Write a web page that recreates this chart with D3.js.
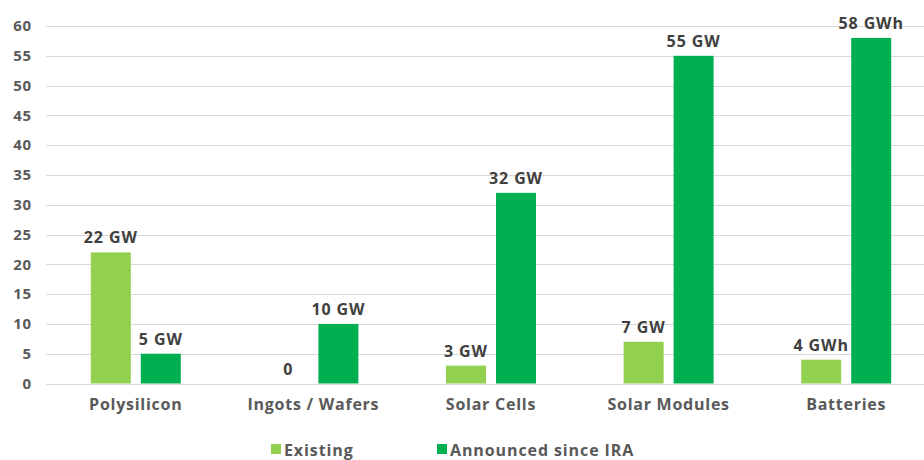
<!DOCTYPE html>
<html>
<head>
<meta charset="utf-8">
<script src="https://cdn.jsdelivr.net/npm/d3@7"></script>
<style>
  html, body { margin: 0; padding: 0; background: #fff; }
  svg { display: block; font-family: "Open Sans", "DejaVu Sans", sans-serif; font-weight: 700; }
</style>
</head>
<body>
<svg id="chart" width="924" height="460"></svg>
<script>
// Manufacturing capacity by supply-chain stage
const categories = ["Polysilicon", "Ingots / Wafers", "Solar Cells", "Solar Modules", "Batteries"];
const seriesNames = ["Existing", "Announced since IRA"];
const existing = [22, 0, 3, 7, 4];
const announced = [5, 10, 32, 55, 58];
const existingLabels = ["22 GW", "0", "3 GW", "7 GW", "4 GWh"];
const announcedLabels = ["5 GW", "10 GW", "32 GW", "55 GW", "58 GWh"];
const yTicks = [0, 5, 10, 15, 20, 25, 30, 35, 40, 45, 50, 55, 60];
const colors = ["#92d050", "#00b050"];

const svg = d3.select("#chart");
const W = 924;

const y = d3.scaleLinear().domain([0, 60]).range([383.5, 26]);
const x0 = d3.scaleBand().domain(categories).range([47, 935]).padding(0);
const x1 = d3.scaleBand().domain(seriesNames)
  .range([x0.bandwidth() / 2 - 45, x0.bandwidth() / 2 + 45])
  .paddingInner(0.2);

// Horizontal gridlines
svg.append("g")
  .selectAll("line")
  .data(yTicks)
  .join("line")
  .attr("x1", 46).attr("x2", W)
  .attr("y1", d => Math.round(y(d)) + 0.5)
  .attr("y2", d => Math.round(y(d)) + 0.5)
  .attr("stroke", "#d9d9d9")
  .attr("stroke-width", 1);

// Y-axis tick labels
const yAxis = d3.axisLeft(y).tickValues(yTicks).tickSize(0).tickPadding(0);
const gy = svg.append("g").attr("transform", "translate(32,0)").call(yAxis);
gy.select(".domain").remove();
gy.selectAll("text")
  .attr("font-family", "'Open Sans', sans-serif")
  .attr("font-weight", 700)
  .attr("font-size", 15)
  .attr("letter-spacing", 0.8)
  .attr("fill", "#595959");

// Bar groups
const rows = categories.map((c, i) => ({
  cat: c,
  vals: [
    { s: seriesNames[0], v: existing[i], label: existingLabels[i] },
    { s: seriesNames[1], v: announced[i], label: announcedLabels[i] }
  ]
}));

const groups = svg.append("g")
  .selectAll("g")
  .data(rows)
  .join("g")
  .attr("transform", d => `translate(${x0(d.cat)},0)`);

groups.selectAll("rect")
  .data(d => d.vals)
  .join("rect")
  .attr("x", d => x1(d.s))
  .attr("width", x1.bandwidth())
  .attr("y", d => y(d.v))
  .attr("height", d => y(0) - y(d.v))
  .attr("fill", (d, i) => colors[i]);

groups.selectAll("text")
  .data(d => d.vals)
  .join("text")
  .attr("x", d => x1(d.s) + x1.bandwidth() / 2)
  .attr("y", d => y(d.v) - 9)
  .attr("text-anchor", "middle")
  .attr("font-size", 16)
  .attr("letter-spacing", 0.9)
  .attr("fill", "#404040")
  .text(d => d.label);

// Category axis labels
const xAxis = d3.axisBottom(x0).tickSize(0).tickPadding(0);
const gx = svg.append("g").attr("transform", "translate(0,399)").call(xAxis);
gx.select(".domain").remove();
gx.selectAll("text")
  .attr("font-family", "'Open Sans', sans-serif")
  .attr("font-weight", 700)
  .attr("font-size", 16)
  .attr("letter-spacing", 0.75)
  .attr("fill", "#595959");

// Legend
const legendX = [271, 437];
const legend = svg.append("g")
  .selectAll("g")
  .data(seriesNames)
  .join("g")
  .attr("transform", (d, i) => `translate(${legendX[i]},0)`);
legend.append("rect")
  .attr("x", 0).attr("y", 444)
  .attr("width", 10).attr("height", 10)
  .attr("fill", (d, i) => colors[i]);
legend.append("text")
  .attr("x", 13).attr("y", 456)
  .attr("font-size", 16)
  .attr("letter-spacing", 0.9)
  .attr("fill", "#595959")
  .text(d => d);
</script>
</body>
</html>
